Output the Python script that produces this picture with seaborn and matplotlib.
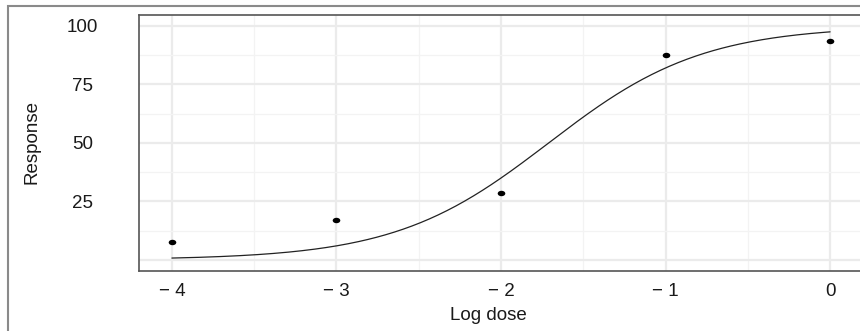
import numpy as np
import pandas as pd
import matplotlib
matplotlib.use("Agg")
import matplotlib.pyplot as plt
from matplotlib.path import Path
from matplotlib.transforms import Affine2D
from matplotlib.patches import Rectangle
import seaborn as sns

# ---- data ----
log_dose = [-4, -3, -2, -1, 0]
response = [7.7, 17.0, 28.5, 87.8, 93.6]

# fitted dose-response (logistic) model parameters, as shown by the curve
fit_bottom = 0.0
fit_top = 100.0
fit_slope = 2.14
fit_log_ec50 = -1.71

x_ticks = [-4, -3, -2, -1, 0]
x_tick_labels = ["\u2212 4", "\u2212 3", "\u2212 2", "\u2212 1", "0"]
y_ticks = [0, 25, 50, 75, 100]
y_tick_labels = ["", "25", "50", "75", "100"]

# ---- build frames ----
pts = pd.DataFrame({"Log dose": log_dose, "Response": response})
xc = np.linspace(min(log_dose), max(log_dose), 300)
yc = fit_bottom + (fit_top - fit_bottom) / (1 + np.exp(-fit_slope * (xc - fit_log_ec50)))
curve = pd.DataFrame({"Log dose": xc, "Response": yc})

sns.set_style("white")
plt.rcParams["font.family"] = ["Liberation Sans", "DejaVu Sans"]

W, H = 860, 331
FS = 13.5
fig = plt.figure(figsize=(W / 100, H / 100), dpi=100)

# outer frame (cropped at right/bottom)
fig.patches.append(Rectangle((8 / W, -0.2), 2.0, (H - 6) / H + 0.2,
                             transform=fig.transFigure, fill=False,
                             edgecolor="#8a8a8a", linewidth=1.5, zorder=0))

left, right, top, bottom = 139, 863, 15, 271
ax = fig.add_axes([left / W, (H - bottom) / H, (right - left) / W, (bottom - top) / H])

sns.lineplot(data=curve, x="Log dose", y="Response", ax=ax, color="#222222",
             linewidth=0.9, zorder=3)

ell = Path.unit_circle().transformed(Affine2D().scale(1.4, 1.0))
sns.scatterplot(data=pts, x="Log dose", y="Response", ax=ax, color="black",
                marker=ell, s=30, linewidth=0, zorder=4)

ax.set_xlim(-4.2, 0.2)
ax.set_ylim(-4.8, 104.7)

ax.set_xticks(x_ticks)
ax.set_xticklabels(x_tick_labels)
ax.set_yticks(y_ticks)
ax.set_yticklabels(y_tick_labels)
ax.set_xticks([-3.5, -2.5, -1.5, -0.5], minor=True)
ax.set_yticks([12.5, 37.5, 62.5, 87.5], minor=True)

ax.grid(True, which="major", color="#ebebeb", linewidth=1.6, zorder=0)
ax.grid(True, which="minor", color="#f3f3f3", linewidth=0.9, zorder=0)
ax.set_axisbelow(True)

ax.tick_params(axis="x", which="major", length=2, width=1.5, color="#444444",
               labelsize=FS, pad=7, labelcolor="#1a1a1a")
ax.tick_params(axis="y", which="major", length=4.5, width=1.1, color="#555555",
               labelsize=FS, pad=36, labelcolor="#1a1a1a")
ax.tick_params(which="minor", length=0)
for lab in ax.get_yticklabels():
    lab.set_horizontalalignment("center")

for side in ["left", "top", "bottom", "right"]:
    ax.spines[side].set_visible(True)
    ax.spines[side].set_color("#555555")
    ax.spines[side].set_linewidth(1.2)

ax.set_xlabel("")
ax.set_ylabel("")
fig.text(488 / W, 11 / H, "Log dose", ha="center", va="baseline",
         fontsize=FS, color="#1a1a1a")
fig.text(32 / W, (H - 142.5) / H, "Response", rotation=90, ha="center",
         va="center", fontsize=FS, color="#1a1a1a")

fig.savefig("out.png", dpi=100)
